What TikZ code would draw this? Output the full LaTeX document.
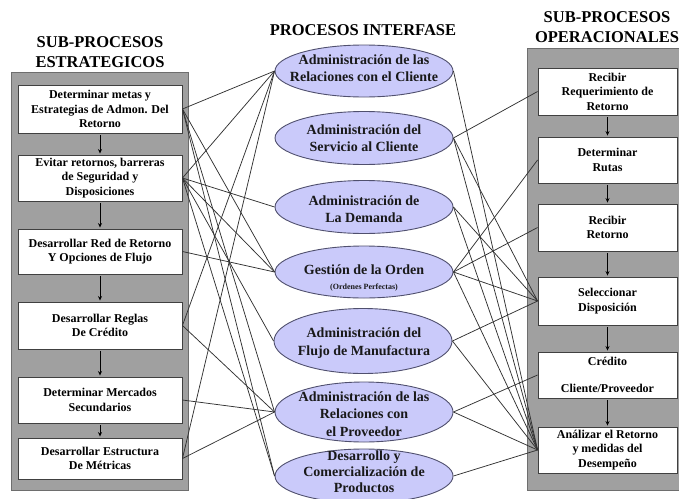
\documentclass[tikz,border=0pt]{standalone}
\usepackage{fontspec}
\setmainfont{Liberation Serif}
\usetikzlibrary{shapes.geometric,arrows.meta}
\definecolor{panelgray}{RGB}{160,160,160}
\definecolor{paneledge}{RGB}{110,110,110}
\definecolor{lav}{RGB}{202,202,250}
\definecolor{lavedge}{RGB}{80,80,110}
\definecolor{linkc}{RGB}{50,50,50}
\begin{document}
\begin{tikzpicture}[x=1pt,y=-1pt,
  panel/.style={fill=panelgray,draw=paneledge,line width=1pt},
  stepbox/.style={draw=black!75,fill=white,line width=0.9pt,inner sep=1pt,
    align=center,font=\fontsize{12}{14.5}\selectfont\bfseries},
  lbox/.style={stepbox,minimum width=164,minimum height=#1},
  rbox/.style={stepbox,minimum width=139,minimum height=#1},
  proc/.style={ellipse,fill=lav,draw=lavedge,line width=0.9pt,inner sep=0pt,
    minimum width=178,minimum height=#1},
  ptext/.style={align=center,inner sep=0pt,text=black!90,
    font=\fontsize{14}{17.5}\selectfont\bfseries},
  head/.style={align=center,inner sep=0pt,
    font=\fontsize{16.5}{19.5}\selectfont\bfseries},
  link/.style={draw=linkc,line width=0.75pt},
  flow/.style={-{Stealth[length=4.5pt,width=4pt]},line width=0.8pt,
    shorten <=2pt,shorten >=1pt}
]
\useasboundingbox (0,0) rectangle (679,498);

% column headings
\node[head] (hL) at (100,52) {SUB-PROCESOS\\ESTRATEGICOS};
\node[head] (hM) at (363,30) {PROCESOS INTERFASE};
\node[head] (hR) at (607,27) {SUB-PROCESOS\\OPERACIONALES};

% grey panels
\path[panel] (11,72) rectangle (188,490);
\path[panel] (527,48) rectangle (686,490);

% strategic sub-processes
\node[lbox=48] (L1) at (100,109) {Determinar metas y\\Estrategias de Admon. Del\\Retorno};
\node[lbox=46] (L2) at (100,178) {Evitar retornos, barreras\\de Seguridad y\\Disposiciones};
\node[lbox=45] (L3) at (100,251.5) {Desarrollar Red de Retorno\\Y Opciones de Flujo};
\node[lbox=47] (L4) at (100,325.5) {Desarrollar Reglas\\De Crédito};
\node[lbox=46] (L5) at (100,400) {Determinar Mercados\\Secundarios};
\node[lbox=41] (L6) at (100,458.5) {Desarrollar Estructura\\De Métricas};

% operational sub-processes
\node[rbox=47] (R1) at (607.5,91.5) {Recibir\\Requerimiento de\\Retorno};
\node[rbox=46] (R2) at (607.5,160) {Determinar\\Rutas};
\node[rbox=47] (R3) at (607.5,227.5) {Recibir\\Retorno};
\node[rbox=48] (R4) at (607.5,301) {Seleccionar\\Disposición};
\node[rbox=46] (R5) at (607.5,375) {Crédito\\[13pt]Cliente/Proveedor};
\node[rbox=46] (R6) at (607.5,450) {Análizar el Retorno\\y medidas del\\Desempeño};

% sequence arrows inside the panels
\foreach \a/\b in {L1/L2,L2/L3,L3/L4,L4/L5,L5/L6,R1/R2,R2/R3,R3/R4,R4/R5,R5/R6}
  \draw[flow] (\a.south) -- (\b.north);

% interface processes
\node[proc=52] (E1) at (364,71) {};
\node[proc=53] (E2) at (364,138) {};
\node[proc=53] (E3) at (364,207) {};
\node[proc=52] (E4) at (364,272) {};
\node[proc=65] (E5) at (363,341) {};
\node[proc=60] (E6) at (364,412) {};
\node[proc=54] (E7) at (364,476) {};

\node[ptext] (T1) at (364,68) {Administración de las\\Relaciones con el Cliente};
\node[ptext] (T2) at (364,138) {Administración del\\Servicio al Cliente};
\node[ptext] (T3) at (364,209) {Administración de\\La Demanda};
\node[ptext] (T4) at (364,278) {Gestión de la Orden\\[-2pt]{\fontsize{8}{9}\selectfont (Ordenes Perfectas)}};
\node[ptext] (T5) at (364,343) {Administración del\\Flujo de Manufactura};
\node[ptext] (T6) at (364,414) {Administración de las\\Relaciones con\\el Proveedor};
\node[ptext,font=\fontsize{14}{16}\selectfont\bfseries] (T7) at (364,472) {Desarrollo y\\Comercialización de\\Productos};

% strategic <-> interface links
\foreach \a/\b in {L1/E1,L2/E1,L4/E1,L6/E1,
                   L1/E4,L1/E6,L1/E7,
                   L2/E3,L2/E4,L2/E5,L2/E7,
                   L3/E4,L4/E6,L5/E6,L6/E6}
  \draw[link] (\a.east) -- (\b.west);

% interface <-> operational links
\foreach \a/\b in {E1/R6,E2/R1,E2/R4,E2/R6,E3/R4,E3/R6,
                   E4/R2,E4/R3,E4/R4,E4/R6,E5/R4,E5/R6,
                   E6/R5,E6/R6,E7/R6}
  \draw[link] (\a.east) -- (\b.west);
\end{tikzpicture}
\end{document}
